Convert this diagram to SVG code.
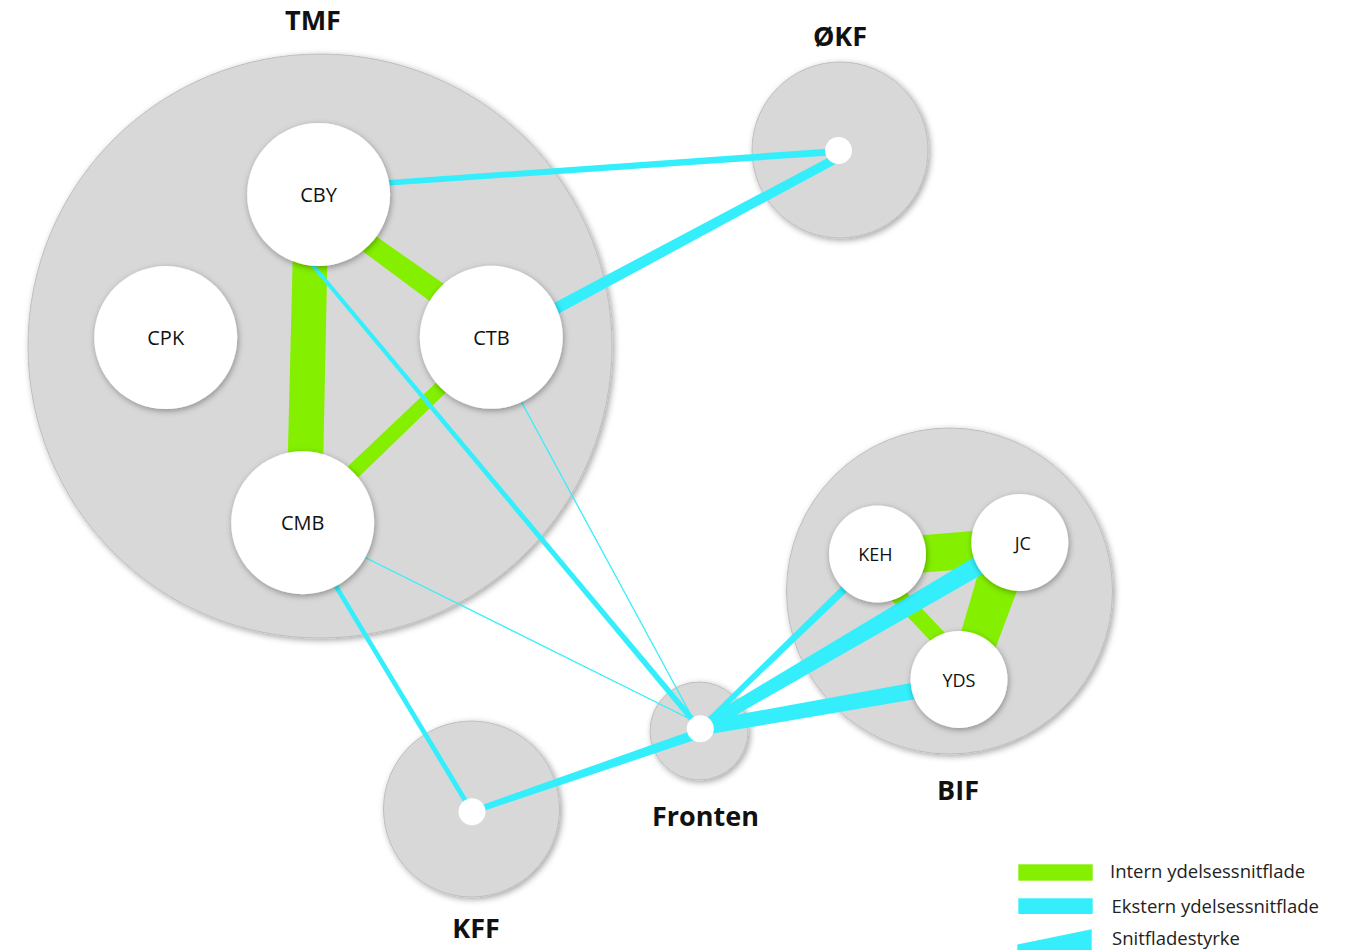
<svg xmlns="http://www.w3.org/2000/svg" width="1348" height="950" viewBox="0 0 1348 950">
<defs>
<filter id="shc" x="-10%" y="-10%" width="120%" height="120%"><feDropShadow dx="2" dy="2" stdDeviation="3" flood-color="#000" flood-opacity="0.35"/></filter>
<filter id="shn" x="-20%" y="-20%" width="140%" height="140%"><feDropShadow dx="1" dy="2" stdDeviation="3" flood-color="#000" flood-opacity="0.35"/></filter>
<style>
.cluster{fill:#D8D8D8;stroke:#BEBEBE;stroke-width:1;filter:url(#shc)}
.node{fill:#FFFFFF;filter:url(#shn)}
.dot{fill:#FFFFFF}
.int{fill:#84F000}
.ext{fill:#34EFFB}
.thin{stroke:#34EFFB;stroke-width:1.3;fill:none}
.ctitle{font-family:"Open Sans","Liberation Sans",sans-serif;font-weight:700;font-size:27px;fill:#111;text-anchor:middle}
.nlabel{font-family:"Open Sans","Liberation Sans",sans-serif;font-size:20px;fill:#111;text-anchor:middle}
.slabel{font-family:"Open Sans","Liberation Sans",sans-serif;font-size:18px;fill:#111;text-anchor:middle}
.legend{font-family:"Open Sans","Liberation Sans",sans-serif;font-size:18.5px;fill:#222}
</style>
</defs>
<rect width="1348" height="950" fill="#FFFFFF"/>
<g id="clusters">
<g id="cluster-TMF"><circle class="cluster" cx="320" cy="346" r="292"/><text class="ctitle" x="313" y="30">TMF</text></g>
<g id="cluster-OKF"><circle class="cluster" cx="840" cy="150" r="88"/><text class="ctitle" x="840" y="46">ØKF</text></g>
<g id="cluster-BIF"><circle class="cluster" cx="949.5" cy="591" r="163"/><text class="ctitle" x="958" y="800">BIF</text></g>
<g id="cluster-KFF"><circle class="cluster" cx="471.5" cy="809" r="88"/><text class="ctitle" x="476" y="938">KFF</text></g>
<g id="cluster-Fronten"><circle class="cluster" cx="699" cy="731" r="49"/><text class="ctitle" x="705.5" y="826">Fronten</text></g>
</g>
<g id="connectors">
<polygon class="int" points="293.4,230 328,230 322.8,480 287.2,480"/>
<polygon class="int" points="360.3,225.2 458.7,294.2 444.4,311.9 347.2,239.8"/>
<polygon class="int" points="450.5,368.9 459.5,379.5 344.8,490.5 333.8,479.8"/>
<polygon class="int" points="900,537 1000,528.7 1000,566.3 900,574.6"/>
<polygon class="int" points="865.7,572.7 941.5,652.4 953.1,641.4 877.3,561.7"/>
<polygon class="int" points="985.1,549.5 1027.2,563.6 986.2,673.1 953.3,658.8"/>
<polygon class="ext" points="349.8,182.8 837.8,147.9 838.2,154.9 350.2,188.2"/>
<polygon class="ext" points="517.2,322.4 837.9,152.4 842.1,160.4 522.8,333.0"/>
<polygon class="ext" points="301.2,248.4 702.2,726.8 697.8,730.6 298.2,250.8"/>
<line class="thin" x1="515" y1="390" x2="698" y2="728"/>
<line class="thin" x1="350" y1="550" x2="700" y2="724"/>
<polygon class="ext" points="319.6,563.5 469.9,813.0 474.1,810.4 323.4,561.1"/>
<polygon class="ext" points="471.0,808.9 698.4,728.3 701.6,737.7 473.0,814.5"/>
<polygon class="ext" points="698.3,726.9 854.9,573.2 860.5,579.0 701.7,730.5"/>
<polygon class="ext" points="697.0,723.5 1014.8,532.8 1024.9,550.0 703.0,733.9"/>
<polygon class="ext" points="698.8,721.8 957.5,674.4 960.5,691.6 701.2,735.6"/>
</g>
<g id="node-CBY"><circle class="node" cx="318.6" cy="194.5" r="71.5"/><text class="nlabel" x="318.5" y="202">CBY</text></g>
<g id="node-CPK"><circle class="node" cx="165.7" cy="337.6" r="71.5"/><text class="nlabel" x="165.7" y="345">CPK</text></g>
<g id="node-CTB"><circle class="node" cx="491.3" cy="337.3" r="71.5"/><text class="nlabel" x="491.5" y="345">CTB</text></g>
<g id="node-CMB"><circle class="node" cx="302.7" cy="522.7" r="71.5"/><text class="nlabel" x="302.7" y="530">CMB</text></g>
<g id="node-KEH"><circle class="node" cx="877.5" cy="554" r="48.5"/><text class="slabel" x="875.3" y="561">KEH</text></g>
<g id="node-JC"><circle class="node" cx="1019.8" cy="542.5" r="48.5"/><text class="slabel" x="1022.8" y="550">JC</text></g>
<g id="node-YDS"><circle class="node" cx="959" cy="679.5" r="48.5"/><text class="slabel" x="959" y="686.5">YDS</text></g>
<g id="node-OKF"><circle class="dot" cx="838.5" cy="150.5" r="13.5"/></g>
<g id="node-KFF"><circle class="dot" cx="472" cy="811.7" r="13.5"/></g>
<g id="node-Fronten"><circle class="dot" cx="700.3" cy="728.7" r="13.5"/></g>
<g id="legend">
<rect class="int" x="1018.3" y="864.3" width="74.4" height="16.4"/>
<text class="legend" x="1110" y="878.3">Intern ydelsessnitflade</text>
<rect class="ext" x="1018.3" y="898.3" width="74.4" height="15.7"/>
<text class="legend" x="1111.5" y="912.7">Ekstern ydelsessnitflade</text>
<polygon class="ext" points="1017.3,944.5 1091.7,929.3 1091.7,955 1017.3,955"/>
<text class="legend" x="1112" y="944.5">Snitfladestyrke</text>
</g>
</svg>
